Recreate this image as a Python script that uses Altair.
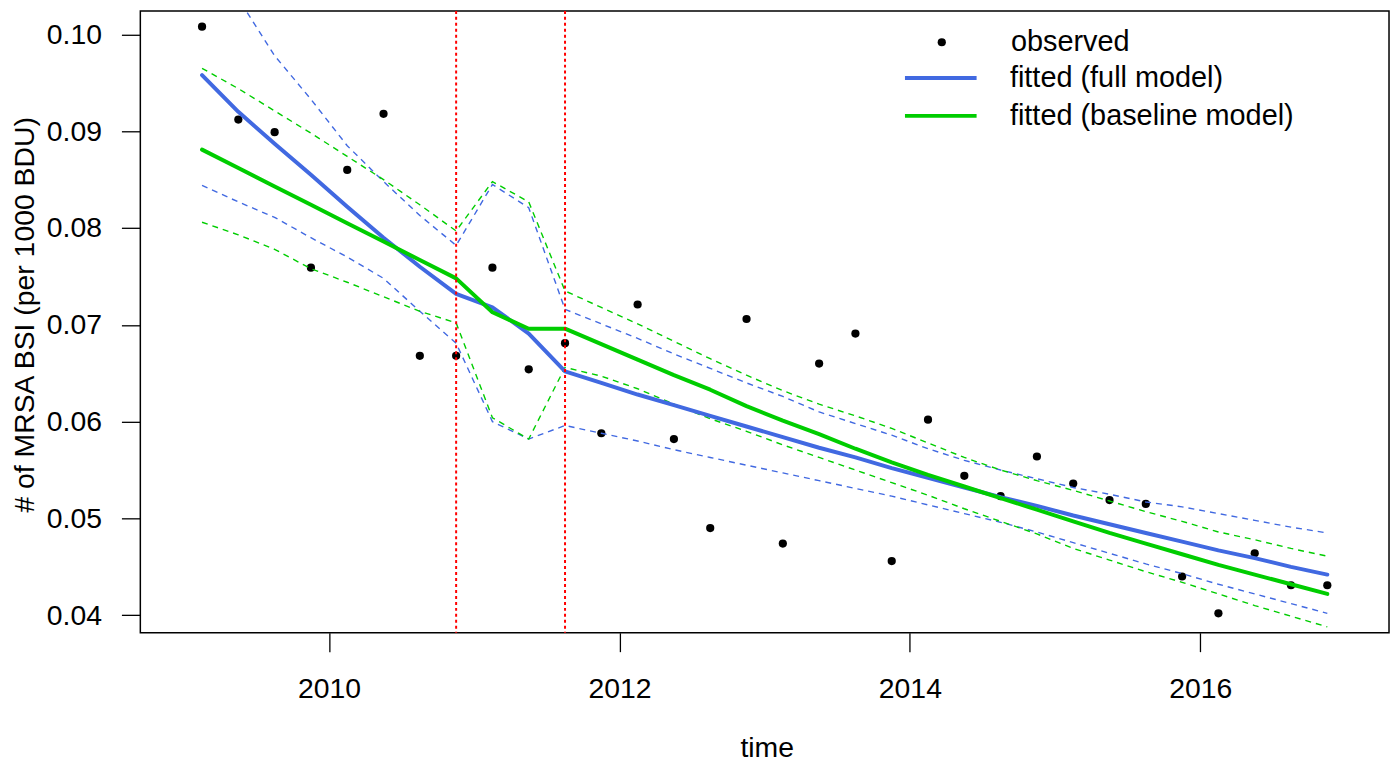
import altair as alt
import pandas as pd

FONT = "Liberation Sans"
FS = 28.5
LFS = 29
BLUE = "#4169E1"
GREEN = "#00CD00"

times = [2009.125, 2009.375, 2009.625, 2009.875, 2010.125, 2010.375, 2010.625, 2010.875,
         2011.125, 2011.375, 2011.625, 2011.875, 2012.125, 2012.375, 2012.625, 2012.875,
         2013.125, 2013.375, 2013.625, 2013.875, 2014.125, 2014.375, 2014.625, 2014.875,
         2015.125, 2015.375, 2015.625, 2015.875, 2016.125, 2016.375, 2016.625, 2016.875]

observed = [0.1008, 0.0912, 0.0899, 0.0759, 0.0860, 0.0918, 0.0668, 0.0668,
            0.0759, 0.0654, 0.0681, 0.0588, 0.0721, 0.0582, 0.0490, 0.0706,
            0.0474, 0.0660, 0.0691, 0.0456, 0.0602, 0.0544, 0.0523, 0.0564,
            0.0536, 0.0519, 0.0515, 0.0440, 0.0402, 0.0464, 0.0431, 0.0431]

full_fit = [0.0958, 0.0920, 0.0887, 0.0855, 0.0822, 0.0790, 0.0760, 0.0732,
            0.0718, 0.0691, 0.0652, 0.0640, 0.0628, 0.0617, 0.0606, 0.0595,
            0.0584, 0.0573, 0.0563, 0.0552, 0.0542, 0.0532, 0.0522, 0.0513,
            0.0503, 0.0494, 0.0485, 0.0476, 0.0467, 0.0459, 0.0450, 0.0442]
full_upper = [0.1100, 0.1037, 0.0978, 0.0933, 0.0885, 0.0848, 0.0813, 0.0782,
              0.0845, 0.0821, 0.0716, 0.0701, 0.0686, 0.0670, 0.0655, 0.0640,
              0.0626, 0.0610, 0.0598, 0.0586, 0.0572, 0.0560, 0.0550, 0.0541,
              0.0532, 0.0525, 0.0517, 0.0512, 0.0505, 0.0498, 0.0491, 0.0485]
full_lower = [0.0844, 0.0827, 0.0811, 0.0790, 0.0770, 0.0748, 0.0714, 0.0681,
              0.0600, 0.0582, 0.0596, 0.0588, 0.0580, 0.0571, 0.0563, 0.0555,
              0.0547, 0.0539, 0.0531, 0.0523, 0.0514, 0.0505, 0.0496, 0.0486,
              0.0475, 0.0464, 0.0453, 0.0443, 0.0432, 0.0422, 0.0412, 0.0402]

base_fit = [0.0881, 0.0862, 0.0843, 0.0824, 0.0805, 0.0786, 0.0767, 0.0748,
            0.0713, 0.0696, 0.0696, 0.0680, 0.0664, 0.0648, 0.0633, 0.0616,
            0.0601, 0.0587, 0.0572, 0.0558, 0.0545, 0.0533, 0.0521, 0.0509,
            0.0497, 0.0485, 0.0474, 0.0463, 0.0452, 0.0442, 0.0432, 0.0422]
base_upper = [0.0965, 0.0944, 0.0921, 0.0898, 0.0874, 0.0850, 0.0824, 0.0797,
              0.0848, 0.0827, 0.0735, 0.0718, 0.0701, 0.0683, 0.0665, 0.0648,
              0.0632, 0.0618, 0.0606, 0.0593, 0.0578, 0.0563, 0.0550, 0.0539,
              0.0529, 0.0518, 0.0507, 0.0497, 0.0486, 0.0478, 0.0469, 0.0461]
base_lower = [0.0806, 0.0793, 0.0778, 0.0758, 0.0744, 0.0729, 0.0714, 0.0702,
              0.0604, 0.0582, 0.0656, 0.0647, 0.0634, 0.0618, 0.0603, 0.0590,
              0.0576, 0.0563, 0.0550, 0.0537, 0.0524, 0.0510, 0.0497, 0.0484,
              0.0469, 0.0457, 0.0445, 0.0434, 0.0422, 0.0410, 0.0399, 0.0388]

interventions = [2010.875, 2011.625]
x_ticks = [2010, 2012, 2014, 2016]
y_ticks = [0.04, 0.05, 0.06, 0.07, 0.08, 0.09, 0.10]
x_domain = [2008.70, 2017.30]
y_domain = [0.03819, 0.10243]
obs_label = "observed"
model_labels = ["fitted (full model)", "fitted (baseline model)"]

obs_df = pd.DataFrame({"t": times, "value": observed, "label": obs_label})
fit_df = pd.concat([
    pd.DataFrame({"t": times, "value": full_fit, "model": model_labels[0]}),
    pd.DataFrame({"t": times, "value": base_fit, "model": model_labels[1]}),
], ignore_index=True)
ci_full_df = pd.concat([
    pd.DataFrame({"t": times, "value": full_upper, "bound": "upper"}),
    pd.DataFrame({"t": times, "value": full_lower, "bound": "lower"}),
], ignore_index=True)
ci_base_df = pd.concat([
    pd.DataFrame({"t": times, "value": base_upper, "bound": "upper"}),
    pd.DataFrame({"t": times, "value": base_lower, "bound": "lower"}),
], ignore_index=True)
iv_df = pd.DataFrame({"t": interventions})

W, H = 1255, 625

x_enc = alt.X("t:Q",
              scale=alt.Scale(domain=x_domain, nice=False, zero=False),
              axis=alt.Axis(values=x_ticks, format="d", title="time",
                            labelBaseline="alphabetic", labelPadding=46,
                            titleBaseline="alphabetic", titleX=W / 2 + 2, titleY=124,
                            titleAlign="center"))
y_enc = alt.Y("value:Q",
              scale=alt.Scale(domain=y_domain, nice=False, zero=False),
              axis=alt.Axis(values=y_ticks, format=".2f",
                            title="# of MRSA BSI (per 1000 BDU)",
                            labelPadding=20, titleAngle=270,
                            titleBaseline="alphabetic", titleAlign="center",
                            titleX=-107, titleY=305))

points = alt.Chart(obs_df).mark_point(filled=True, size=68, opacity=1, color="black").encode(
    x=x_enc, y=y_enc,
    shape=alt.Shape("label:N",
                    scale=alt.Scale(domain=[obs_label], range=["circle"]),
                    legend=alt.Legend(title=None, orient="none", legendX=791, legendY=17,
                                      padding=0, symbolSize=68, symbolFillColor="black",
                                      symbolStrokeWidth=0, symbolOpacity=1,
                                      labelOffset=55, labelFont=FONT, labelFontSize=LFS,
                                      labelColor="black", labelLimit=0))
)

ci_full = alt.Chart(ci_full_df).mark_line(strokeWidth=1.4, strokeDash=[6, 5], clip=True, color=BLUE).encode(
    x=x_enc, y=y_enc, detail="bound:N"
)
ci_base = alt.Chart(ci_base_df).mark_line(strokeWidth=1.4, strokeDash=[6, 5], clip=True, color=GREEN).encode(
    x=x_enc, y=y_enc, detail="bound:N"
)

fits = alt.Chart(fit_df).mark_line(strokeWidth=4, strokeCap="round", strokeJoin="round", clip=True).encode(
    x=x_enc, y=y_enc,
    color=alt.Color("model:N",
                    scale=alt.Scale(domain=model_labels, range=[BLUE, GREEN]),
                    sort=model_labels,
                    legend=alt.Legend(title=None, orient="none", legendX=790, legendY=53,
                                      padding=0, symbolType="M-3,0H3", symbolSize=576,
                                      symbolStrokeWidth=4, rowPadding=8,
                                      labelOffset=55, labelFont=FONT, labelFontSize=LFS,
                                      labelColor="black", labelLimit=0))
)

vlines = alt.Chart(iv_df).mark_rule(color="red", strokeWidth=2, strokeDash=[3, 3]).encode(x=x_enc)

chart = alt.layer(points, ci_full, ci_base, fits, vlines).resolve_legend(
    shape="independent", color="independent"
).properties(
    width=W, height=H,
    padding={"left": 133, "top": 1, "right": 3, "bottom": 132},
    autosize=alt.AutoSizeParams(type="none"),
).configure_view(
    stroke="black", strokeWidth=1.5
).configure_axis(
    grid=False, domain=False, tickColor="black", tickWidth=1.3, tickSize=19,
    labelFont=FONT, labelFontSize=FS, labelColor="black",
    titleFont=FONT, titleFontSize=FS, titleFontWeight="normal", titleColor="black"
)

chart.save("out.html", embed_options={"renderer": "svg", "actions": False})
